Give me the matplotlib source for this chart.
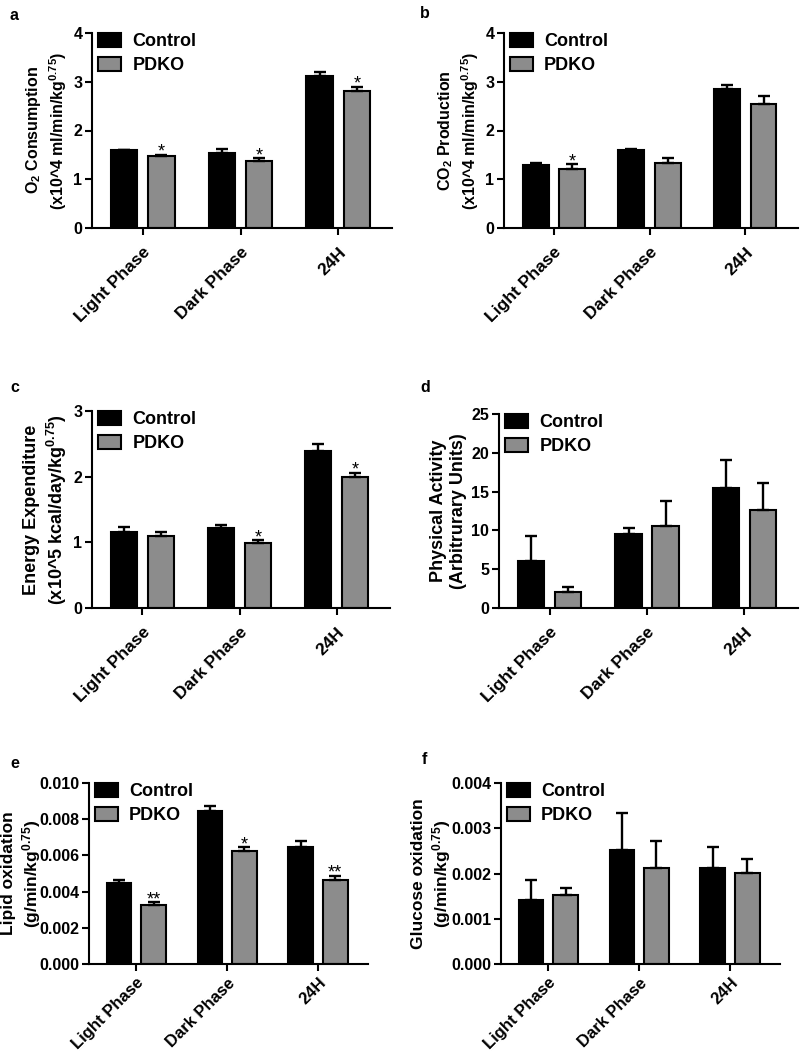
import matplotlib
matplotlib.use('Agg')
import matplotlib.pyplot as plt
import numpy as np

plt.rcParams['font.family'] = ['Liberation Sans', 'DejaVu Sans']
plt.rcParams['font.weight'] = 'bold'
plt.rcParams['axes.labelweight'] = 'bold'
plt.rcParams['mathtext.fontset'] = 'custom'
plt.rcParams['mathtext.rm'] = 'Liberation Sans:bold'
plt.rcParams['mathtext.it'] = 'Liberation Sans:bold'
plt.rcParams['mathtext.bf'] = 'Liberation Sans:bold'
plt.rcParams['mathtext.default'] = 'rm'

phases = ['Light Phase', 'Dark Phase', '24H']
groups = ['Control', 'PDKO']

# a - O2 consumption
o2_control = [1.59, 1.54, 3.11]
o2_control_err = [0.01, 0.09, 0.09]
o2_pdko = [1.48, 1.37, 2.82]
o2_pdko_err = [0.02, 0.06, 0.08]
o2_stars = ['*', '*', '*']

# b - CO2 production
co2_control = [1.30, 1.59, 2.85]
co2_control_err = [0.04, 0.04, 0.08]
co2_pdko = [1.22, 1.34, 2.54]
co2_pdko_err = [0.09, 0.09, 0.17]
co2_stars = ['*', '', '']

# c - energy expenditure
ee_control = [1.16, 1.22, 2.39]
ee_control_err = [0.07, 0.04, 0.10]
ee_pdko = [1.09, 0.99, 1.99]
ee_pdko_err = [0.07, 0.04, 0.07]
ee_stars = ['', '*', '*']

# d - physical activity
pa_control = [6.1, 9.5, 15.5]
pa_control_err = [3.15, 0.75, 3.55]
pa_pdko = [2.0, 10.6, 12.6]
pa_pdko_err = [0.7, 3.2, 3.55]
pa_stars = ['', '', '']

# e - lipid oxidation
lipid_control = [0.00446, 0.00845, 0.00648]
lipid_control_err = [0.00019, 0.00026, 0.00029]
lipid_pdko = [0.00325, 0.00624, 0.00465]
lipid_pdko_err = [0.00018, 0.00022, 0.00022]
lipid_stars = ['**', '*', '**']

# f - glucose oxidation
glu_control = [0.00142, 0.00252, 0.00213]
glu_control_err = [0.00043, 0.00081, 0.00045]
glu_pdko = [0.00152, 0.00212, 0.00201]
glu_pdko_err = [0.00017, 0.00059, 0.00031]
glu_stars = ['', '', '']

GRAY = '#8c8c8c'


def draw_panel(ax, control, control_err, pdko, pdko_err, stars, yticks, ylabel,
               fmt='%d', label_size=11, label_x=None, xtick_size=12.5, xtick_pad=7):
    x = np.arange(len(phases))
    w = 0.27
    off = 0.19
    ekw = dict(elinewidth=1.7, capthick=1.7, ecolor='black')
    ax.bar(x - off, control, w, yerr=[np.zeros(3), control_err], color='black',
           edgecolor='black', linewidth=1.5, capsize=4, error_kw=ekw, label=groups[0])
    ax.bar(x + off, pdko, w, yerr=[np.zeros(3), pdko_err], color=GRAY,
           edgecolor='black', linewidth=1.5, capsize=4, error_kw=ekw, label=groups[1])

    for i in range(len(phases)):
        if stars[i]:
            ax.annotate(stars[i], (x[i] + off, pdko[i] + pdko_err[i]), xytext=(0, -1.5),
                        textcoords='offset points', ha='center', va='baseline',
                        fontsize=13, fontweight='normal')

    ax.set_xlim(-0.52, 2.55)
    ax.set_ylim(yticks[0], yticks[-1])
    ax.set_yticks(yticks)
    ax.set_yticklabels([fmt % t for t in yticks])
    ax.set_xticks(x)
    ax.set_xticklabels(phases, rotation=45, ha='right', va='top', rotation_mode='anchor')
    ax.set_ylabel(ylabel, fontsize=label_size, linespacing=1.25, labelpad=3)
    if label_x is not None:
        ax.yaxis.set_label_coords(label_x, 0.5)

    for s in ['top', 'right']:
        ax.spines[s].set_visible(False)
    for s in ['left', 'bottom']:
        ax.spines[s].set_linewidth(1.5)
    ax.tick_params(axis='y', direction='out', length=5, width=1.5, labelsize=11.5, pad=2)
    ax.tick_params(axis='x', direction='out', length=5, width=1.5, labelsize=xtick_size,
                   pad=xtick_pad)

    ax.legend(loc='upper left', bbox_to_anchor=(0.02, 1.0), frameon=False,
              handlelength=1.3, handleheight=0.85, labelspacing=0.35,
              handletextpad=0.6, borderpad=0, borderaxespad=0, fontsize=13)


def main():
    fig = plt.figure(figsize=(8, 10.54), dpi=100)
    W, H = 800, 1054

    def add_ax(l, r, t, b):
        return fig.add_axes([l / W, 1 - b / H, (r - l) / W, (b - t) / H])

    ax_a = add_ax(92, 392, 33, 228)
    ax_b = add_ax(504, 798, 33, 228)
    ax_c = add_ax(92, 390, 411, 608)
    ax_d = add_ax(499, 798, 414, 608)
    ax_e = add_ax(89, 368, 783, 964)
    ax_f = add_ax(501, 780, 783, 964)

    draw_panel(ax_a, o2_control, o2_control_err, o2_pdko, o2_pdko_err, o2_stars,
               [0, 1, 2, 3, 4],
               'O$_2$ Consumption\n(x10^4 ml/min/kg$^{0.75}$)', label_size=11.5)
    draw_panel(ax_b, co2_control, co2_control_err, co2_pdko, co2_pdko_err, co2_stars,
               [0, 1, 2, 3, 4],
               'CO$_2$ Production\n(x10^4 ml/min/kg$^{0.75}$)', label_size=11.5)
    draw_panel(ax_c, ee_control, ee_control_err, ee_pdko, ee_pdko_err, ee_stars,
               [0, 1, 2, 3],
               'Energy Expenditure\n(x10^5 kcal/day/kg$^{0.75}$)', label_size=13)
    draw_panel(ax_d, pa_control, pa_control_err, pa_pdko, pa_pdko_err, pa_stars,
               [0, 5, 10, 15, 20, 25],
               'Physical Activity\n(Arbitrurary Units)', label_size=13)
    draw_panel(ax_e, lipid_control, lipid_control_err, lipid_pdko, lipid_pdko_err, lipid_stars,
               [0.0, 0.002, 0.004, 0.006, 0.008, 0.010],
               'Lipid oxidation\n(g/min/kg$^{0.75}$)', fmt='%.3f',
               label_size=12.5, label_x=-0.165, xtick_size=12, xtick_pad=3)
    draw_panel(ax_f, glu_control, glu_control_err, glu_pdko, glu_pdko_err, glu_stars,
               [0.0, 0.001, 0.002, 0.003, 0.004],
               'Glucose oxidation\n(g/min/kg$^{0.75}$)', fmt='%.3f',
               label_size=12.5, label_x=-0.172, xtick_size=12, xtick_pad=3)

    # panel letters
    for letter, px, py in [('a', 10, 15), ('b', 420, 14), ('c', 10, 388),
                           ('d', 420, 387), ('e', 10, 763), ('f', 422, 760)]:
        fig.text(px / W, 1 - py / H, letter, ha='left', va='center', fontsize=11.5)

    fig.savefig('out.png', dpi=100)


if __name__ == "__main__":
    main()
